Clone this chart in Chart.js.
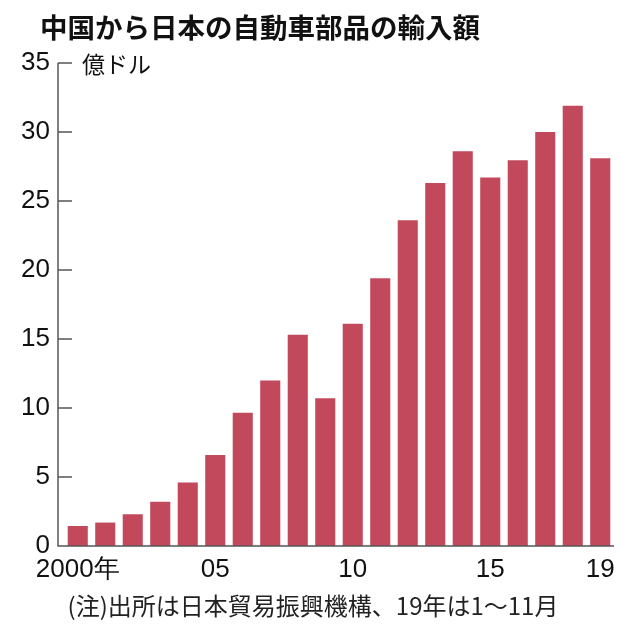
<!DOCTYPE html>
<html>
<head>
<meta charset="utf-8">
<script src="https://cdn.jsdelivr.net/npm/chart.js@4/dist/chart.umd.min.js"></script>
<style>
  html, body { margin: 0; padding: 0; background: #fff; }
  #wrap { width: 630px; height: 630px; }
</style>
</head>
<body>
<div id="wrap"><canvas id="myChart" width="630" height="630"></canvas></div>
<script>
var years = ['2000年', '01', '02', '03', '04', '05', '06', '07', '08', '09',
             '10', '11', '12', '13', '14', '15', '16', '17', '18', '19'];
var shownYears = [0, 5, 10, 15, 19];
var imports = [1.45, 1.7, 2.3, 3.2, 4.6, 6.6, 9.65, 12.0, 15.3, 10.7,
               16.1, 19.4, 23.6, 26.3, 28.6, 26.7, 27.95, 30.0, 31.9, 28.1];
var yTicks = [0, 5, 10, 15, 20, 25, 30, 35];

var titleText = '中国から日本の自動車部品の輸入額';
var unitText = '億ドル';
var noteText = '(注)出所は日本貿易振興機構、19年は1～11月';

var numFont = '"Liberation Sans Narrow", "Liberation Sans", Arial, sans-serif';
var jpFont = '"Noto Sans CJK JP", "Noto Sans", sans-serif';
var axisColor = '#555';

// axis lines, inward tick stubs and the text around the plot
var decorations = {
    id: 'decorations',
    afterDatasetsDraw: function(chart) {
        var c = chart.ctx;
        var area = chart.chartArea;
        var y = chart.scales.y;
        var axisX = area.left - 6;

        c.save();
        c.strokeStyle = axisColor;
        c.lineWidth = 1.5;
        c.beginPath();
        c.moveTo(axisX, y.getPixelForValue(35));
        c.lineTo(axisX, area.bottom);
        c.lineTo(area.right, area.bottom);
        yTicks.forEach(function(v) {
            if (v === 0) return;
            var py = y.getPixelForValue(v);
            c.moveTo(axisX, py);
            c.lineTo(axisX + 14, py);
        });
        c.stroke();

        c.fillStyle = '#111';
        c.textBaseline = 'middle';
        c.textAlign = 'left';
        c.font = '23px ' + jpFont;
        c.fillText(unitText, axisX + 24, y.getPixelForValue(35) + 1);

        c.font = 'bold 27.5px ' + jpFont;
        c.fillText(titleText, 40, 28);

        c.font = '24px ' + jpFont;
        c.textAlign = 'center';
        c.fillStyle = '#222';
        c.fillText(noteText, 313, 606);
        c.restore();
    }
};

var ctx = document.getElementById("myChart").getContext('2d');

var myChart = new Chart(ctx, {
    type: 'bar',
    data: {
        labels: years,
        datasets: [{
            label: '輸入額',
            data: imports,
            backgroundColor: '#c2485c',
            borderWidth: 0,
            categoryPercentage: 1.0,
            barPercentage: 0.73
        }]
    },
    options: {
        responsive: false,
        animation: false,
        layout: {
            padding: { top: 63, right: 16, bottom: 44, left: 0 }
        },
        plugins: {
            legend: { display: false },
            tooltip: { enabled: false }
        },
        scales: {
            x: {
                grid: { display: false, drawTicks: false },
                border: { display: false },
                ticks: {
                    autoSkip: false,
                    maxRotation: 0,
                    padding: 8,
                    color: '#111',
                    font: { family: numFont, size: 26 },
                    callback: function(val, i) {
                        return shownYears.indexOf(i) >= 0 ? years[i] : '';
                    }
                },
                afterFit: function(scale) { scale.height = 40; }
            },
            y: {
                min: 0,
                max: 35,
                grid: { display: false, drawTicks: false },
                border: { display: false },
                ticks: {
                    stepSize: 5,
                    padding: 14,
                    color: '#111',
                    font: { family: numFont, size: 26 }
                },
                afterFit: function(scale) { scale.width = 64; }
            }
        }
    },
    plugins: [decorations]
});
</script>
</body>
</html>
